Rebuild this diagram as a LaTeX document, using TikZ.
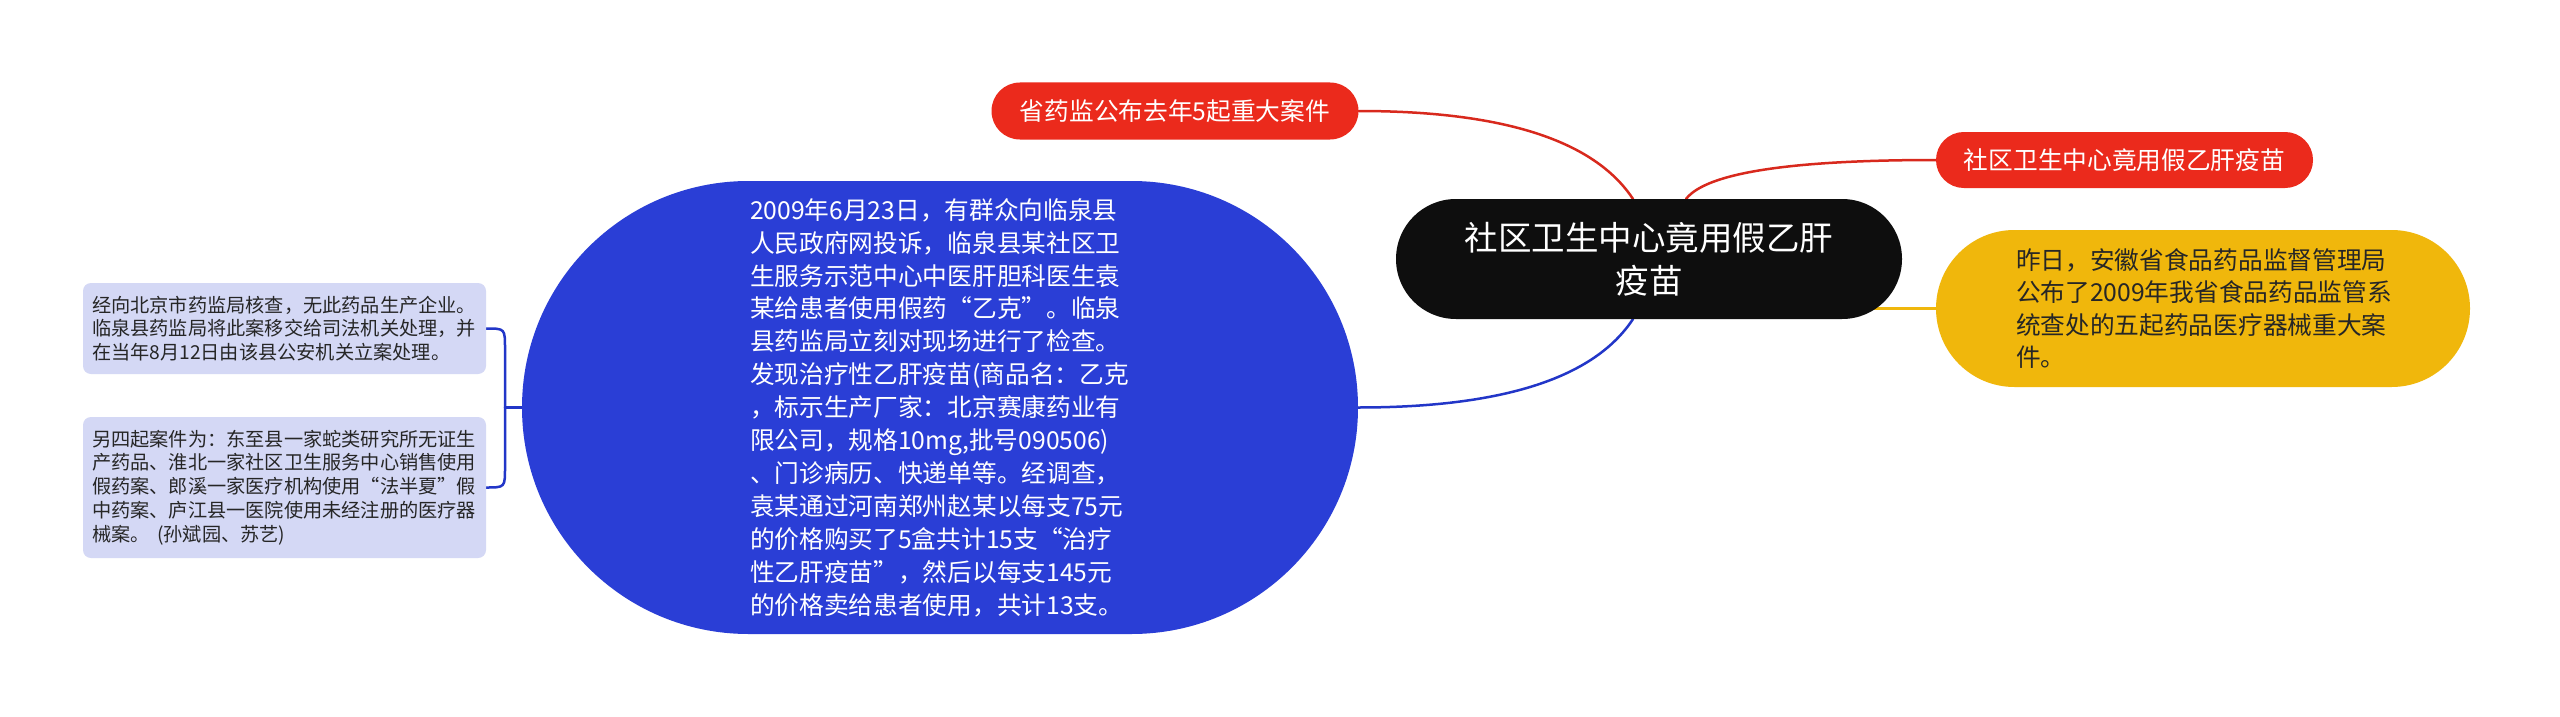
\documentclass[tikz,border=0pt]{standalone}
\usepackage{fontspec}
\newfontfamily\cjk{Noto Sans CJK SC}
\usetikzlibrary{calc,backgrounds}
\definecolor{cred}{HTML}{EB2A1C}
\definecolor{credline}{HTML}{D8291D}
\definecolor{cblue}{HTML}{2A3ED6}
\definecolor{cblueline}{HTML}{2236C8}
\definecolor{cyellow}{HTML}{F0B70C}
\definecolor{cblack}{HTML}{0E0E0E}
\definecolor{clav}{HTML}{D4D8F5}
\definecolor{ctext}{HTML}{262626}
\begin{document}
\begin{tikzpicture}[x=1pt,y=-1pt,
  every node/.style={inner sep=0pt,outer sep=0pt},
  topic/.style={rectangle, fill=cblack, text=white, align=center, font=\cjk\fontsize{33.5}{43}\selectfont},
  redbox/.style={rectangle, fill=cred, text=white, align=center, font=\cjk\fontsize{24.7}{30}\selectfont},
  yellowbox/.style={rectangle, fill=cyellow, text=ctext, align=left, font=\cjk\fontsize{24.7}{32.5}\selectfont},
  bluebox/.style={rectangle, fill=cblue, text=white, align=left, font=\cjk\fontsize{24.7}{32.9}\selectfont},
  lavbox/.style={rectangle, fill=clav, text=ctext, rounded corners=8pt, align=left, font=\cjk\fontsize{19.2}{23.8}\selectfont},
  con/.style={line width=2.5pt, line cap=round},
]
\useasboundingbox (0,0) rectangle (2560,717);

\node[topic, minimum width=506pt, minimum height=120pt, rounded corners=59.9pt] (central) at (1649,259) {社区卫生中心竟用假乙肝\\疫苗};

\node[redbox, minimum width=367pt, minimum height=57pt, rounded corners=28.4pt] (rt) at (1175,111) {省药监公布去年5起重大案件};

\node[redbox, minimum width=377pt, minimum height=56pt, rounded corners=27.9pt] (rr) at (2124.5,160) {社区卫生中心竟用假乙肝疫苗};

\node[yellowbox, minimum width=534pt, minimum height=157pt, rounded corners=78.4pt, text width=374pt] (yl) at (2203,308.5) {昨日，安徽省食品药品监督管理局\\公布了2009年我省食品药品监管系\\统查处的五起药品医疗器械重大案\\件。};

\node[bluebox, minimum width=836pt, minimum height=453pt, rounded corners=226.4pt, text width=380pt] (blue) at (940,407.5) {2009年6月23日，有群众向临泉县\\人民政府网投诉，临泉县某社区卫\\生服务示范中心中医肝胆科医生袁\\某给患者使用假药“乙克”。临泉\\县药监局立刻对现场进行了检查。\\发现治疗性乙肝疫苗(商品名：乙克\\，标示生产厂家：北京赛康药业有\\限公司，规格10mg,批号090506)\\、门诊病历、快递单等。经调查，\\袁某通过河南郑州赵某以每支75元\\的价格购买了5盒共计15支“治疗\\性乙肝疫苗”，然后以每支145元\\的价格卖给患者使用，共计13支。};

\node[lavbox, minimum width=403pt, minimum height=91pt, text width=385pt] (lb1) at (284.5,328.5) {经向北京市药监局核查，无此药品生产企业。\\临泉县药监局将此案移交给司法机关处理，并\\在当年8月12日由该县公安机关立案处理。};

\node[lavbox, minimum width=403pt, minimum height=141pt, text width=385pt] (lb2) at (284.5,487.5) {另四起案件为：东至县一家蛇类研究所无证生\\产药品、淮北一家社区卫生服务中心销售使用\\假药案、郎溪一家医疗机构使用“法半夏”假\\中药案、庐江县一医院使用未经注册的医疗器\\械案。\hspace{0.4em}(孙斌园、苏艺)};

\begin{scope}[on background layer]
  \fill[white] (0,0) rectangle (2560,717);
  \coordinate (ct) at ($(central.north)+(-16,0)$);
  \coordinate (cb) at ($(central.south)+(-16,0)$);
  \coordinate (cr) at ($(central.north)+(37,0)$);
  \coordinate (q1) at ($(rt.east -| ct)+(-58,0)$);
  \coordinate (q2) at ($(blue.east -| cb)+(-58,0)$);
  \coordinate (q3) at ($(rr.west -| cr)+(30,0)$);
  \draw[con, credline] (rt.east) .. controls ($(rt.east)!0.667!(q1)$) and ($(ct)!0.667!(q1)$) .. (ct);
  \draw[con, cblueline] (blue.east) .. controls ($(blue.east)!0.667!(q2)$) and ($(cb)!0.667!(q2)$) .. (cb);
  \draw[con, credline] (rr.west) .. controls ($(rr.west)!0.667!(q3)$) and ($(cr)!0.667!(q3)$) .. (cr);
  \draw[con, cyellow] (yl.west) -- (yl.west -| central.center);
  \coordinate (bx) at ($(blue.west)+(-17,0)$);
  \draw[con, cblueline] (lb1.east) .. controls (lb1.east -| bx) .. ($(lb1.east -| bx)+(0,20)$) -- ($(lb2.east -| bx)+(0,-20)$) .. controls (lb2.east -| bx) .. (lb2.east);
  \draw[con, cblueline] (bx) -- (blue.west);
\end{scope}
\end{tikzpicture}
\end{document}
